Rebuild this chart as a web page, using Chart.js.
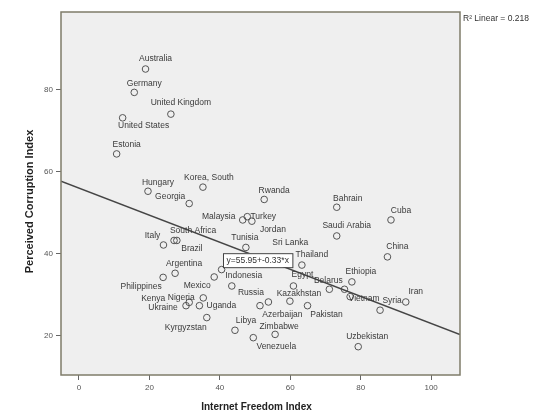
<!DOCTYPE html>
<html>
<head>
<meta charset="utf-8">
<script src="https://cdn.jsdelivr.net/npm/chart.js@4.4.1/dist/chart.umd.min.js"></script>
<style>
  html, body { margin: 0; padding: 0; background: #ffffff; }
  #wrap { width: 535px; height: 417px; }
</style>
</head>
<body>
<div id="wrap"><canvas id="c" width="535" height="417"></canvas></div>
<script>
// Country case labels
const countries = [
  'Australia', 'Germany', 'United Kingdom', 'United States', 'Estonia',
  'Hungary', 'Korea, South', 'Georgia', 'Rwanda', 'Bahrain',
  'Cuba', 'Saudi Arabia', 'China', 'Ethiopia', 'Iran',
  'Uzbekistan', 'Malaysia', 'Turkey', 'Jordan', 'South Africa',
  'Brazil', 'Italy', 'Tunisia', 'Sri Lanka', 'Thailand',
  'Argentina', 'Philippines', 'Mexico', '', 'Indonesia',
  'Egypt', 'Belarus', '', 'Vietnam', 'Syria',
  'Nigeria', 'Kenya', 'Ukraine', 'Uganda', 'Kyrgyzstan',
  'Russia', 'Azerbaijan', 'Kazakhstan', 'Pakistan', 'Libya',
  'Zimbabwe', 'Venezuela'
];
// Internet Freedom Index (x)
const freedom = [
  18.9, 15.7, 26.1, 12.4, 10.7,
  19.6, 35.2, 31.3, 52.6, 73.2,
  88.6, 73.2, 87.6, 77.5, 92.8,
  79.3, 46.5, 47.8, 49.1, 27.0,
  27.8, 24.0, 47.4, 58.0, 63.3,
  27.3, 23.9, 38.4, 40.5, 43.4,
  60.9, 71.1, 75.4, 77.0, 85.5,
  35.3, 31.3, 30.4, 34.2, 36.3,
  51.4, 53.8, 59.9, 64.9, 44.3,
  55.7, 49.5
];
// Perceived Corruption Index (y)
const corruption = [
  85.0, 79.3, 74.0, 73.1, 64.3,
  55.2, 56.2, 52.2, 53.2, 51.3,
  48.2, 44.3, 39.2, 33.1, 28.2,
  17.3, 48.2, 49.0, 47.9, 43.2,
  43.2, 42.1, 41.5, 39.1, 37.2,
  35.2, 34.2, 34.3, 36.1, 32.1,
  32.1, 31.3, 31.3, 29.5, 26.2,
  29.2, 28.1, 27.3, 27.3, 24.4,
  27.3, 28.2, 28.4, 27.3, 21.3,
  20.3, 19.5
];
// Where each case label sits relative to its marker (label centre offset, px)
const labelShift = [
  [10,-10], [10,-9], [10,-11], [21,8], [10,-9],
  [10,-9], [6,-9], [-19,-7], [10,-9], [11,-9],
  [10,-9], [10,-10], [10,-10], [9,-10], [10,-10],
  [9,-10], [-24,-3], [16,0], [21,8], [19,-10],
  [15,8], [-11,-9], [-1,-10], [7,-15], [10,-10],
  [9,-10], [-22,9], [-17,9], [0,0], [12,-10],
  [9,-11], [-1,-9], [0,0], [14,2], [12,-10],
  [-22,0], [-36,-4], [-23,2], [22,0], [-21,10],
  [-9,-13], [14,13], [9,-8], [19,9], [11,-10],
  [4,-8], [23,9]
];

// Axis ticks and ranges
const xTicks = [0, 20, 40, 60, 80, 100];
const yTicks = [20, 40, 60, 80];
const xRange = [-5.1, 108.2];
const yRange = [10.4, 98.9];

// Linear fit
const fitIntercept = 55.95;
const fitSlope = -0.33;
const fitR2 = 0.218;

const points = freedom.map((x, i) => ({ x: x, y: corruption[i] }));
const fitLine = xRange.map(x => ({ x: x, y: fitIntercept + fitSlope * x }));

const FONT = '"Liberation Sans", Arial, Helvetica, sans-serif';

const framePlugin = {
  id: 'frame',
  beforeDatasetsDraw(chart) {
    const { ctx, chartArea: a } = chart;
    ctx.save();
    ctx.fillStyle = '#efefef';
    ctx.fillRect(a.left, a.top, a.right - a.left, a.bottom - a.top);
    ctx.restore();
  },
  afterDraw(chart) {
    const { ctx, chartArea: a, scales } = chart;
    ctx.save();
    ctx.strokeStyle = '#7f7c6a';
    ctx.lineWidth = 1.5;
    ctx.strokeRect(a.left, a.top, a.right - a.left, a.bottom - a.top);

    // axis titles
    ctx.fillStyle = '#222';
    ctx.textAlign = 'center';
    ctx.textBaseline = 'middle';
    ctx.font = 'bold 10px ' + FONT;
    ctx.fillText('Internet Freedom Index', (a.left + a.right) / 2 - 4, 407);
    ctx.save();
    ctx.font = 'bold 11px ' + FONT;
    ctx.translate(30, (a.top + a.bottom) / 2 + 8);
    ctx.rotate(-Math.PI / 2);
    ctx.fillText('Perceived Corruption Index', 0, 0);
    ctx.restore();

    // R² legend
    ctx.font = '8.5px ' + FONT;
    ctx.fillStyle = '#333';
    ctx.textAlign = 'left';
    ctx.fillText('R\u00B2 Linear = ' + fitR2, a.right + 3, a.top + 7);

    // fit equation box
    const bx = scales.x.getPixelForValue(40.9);
    const by = scales.y.getPixelForValue(40.1);
    const txt = 'y=' + fitIntercept + '+' + fitSlope + '*x';
    ctx.font = '8.5px ' + FONT;
    const w = ctx.measureText(txt).width + 7;
    ctx.fillStyle = '#ffffff';
    ctx.fillRect(bx, by, w, 14);
    ctx.strokeStyle = '#444';
    ctx.lineWidth = 1;
    ctx.strokeRect(bx + 0.5, by + 0.5, w, 14);
    ctx.fillStyle = '#333';
    ctx.fillText(txt, bx + 3.5, by + 7.5);
    ctx.restore();
  }
};

const caseLabels = {
  id: 'caseLabels',
  afterDatasetsDraw(chart) {
    const { ctx } = chart;
    const meta = chart.getDatasetMeta(1);
    ctx.save();
    ctx.font = '8.5px ' + FONT;
    ctx.fillStyle = '#3a3a3a';
    ctx.textAlign = 'center';
    ctx.textBaseline = 'middle';
    meta.data.forEach((el, i) => {
      if (!countries[i]) return;
      const s = labelShift[i];
      ctx.fillText(countries[i], el.x + s[0], el.y + s[1]);
    });
    ctx.restore();
  }
};

new Chart(document.getElementById('c'), {
  type: 'scatter',
  data: {
    datasets: [
      {
        type: 'line',
        data: fitLine,
        borderColor: '#454545',
        borderWidth: 1.5,
        pointRadius: 0,
        fill: false,
        tension: 0
      },
      {
        data: points,
        pointStyle: 'circle',
        pointRadius: 3.3,
        pointBorderWidth: 1,
        borderColor: '#555555',
        backgroundColor: 'rgba(0,0,0,0)'
      }
    ]
  },
  options: {
    responsive: false,
    animation: false,
    devicePixelRatio: 1,
    layout: { padding: { top: 12, right: 75, left: 0, bottom: 0 } },
    plugins: { legend: { display: false }, tooltip: { enabled: false } },
    scales: {
      x: {
        type: 'linear',
        min: xRange[0],
        max: xRange[1],
        afterBuildTicks: s => { s.ticks = xTicks.map(v => ({ value: v })); },
        afterFit: s => { s.height = 42; },
        grid: { drawOnChartArea: false, drawTicks: true, tickLength: 5, color: '#666' },
        border: { display: false },
        ticks: { font: { size: 8, family: FONT }, color: '#555', padding: 3, maxRotation: 0 }
      },
      y: {
        type: 'linear',
        min: yRange[0],
        max: yRange[1],
        afterBuildTicks: s => { s.ticks = yTicks.map(v => ({ value: v })); },
        afterFit: s => { s.width = 61; },
        grid: { drawOnChartArea: false, drawTicks: true, tickLength: 5, color: '#666' },
        border: { display: false },
        ticks: { font: { size: 8, family: FONT }, color: '#555', padding: 3 }
      }
    }
  },
  plugins: [framePlugin, caseLabels]
});
</script>
</body>
</html>
